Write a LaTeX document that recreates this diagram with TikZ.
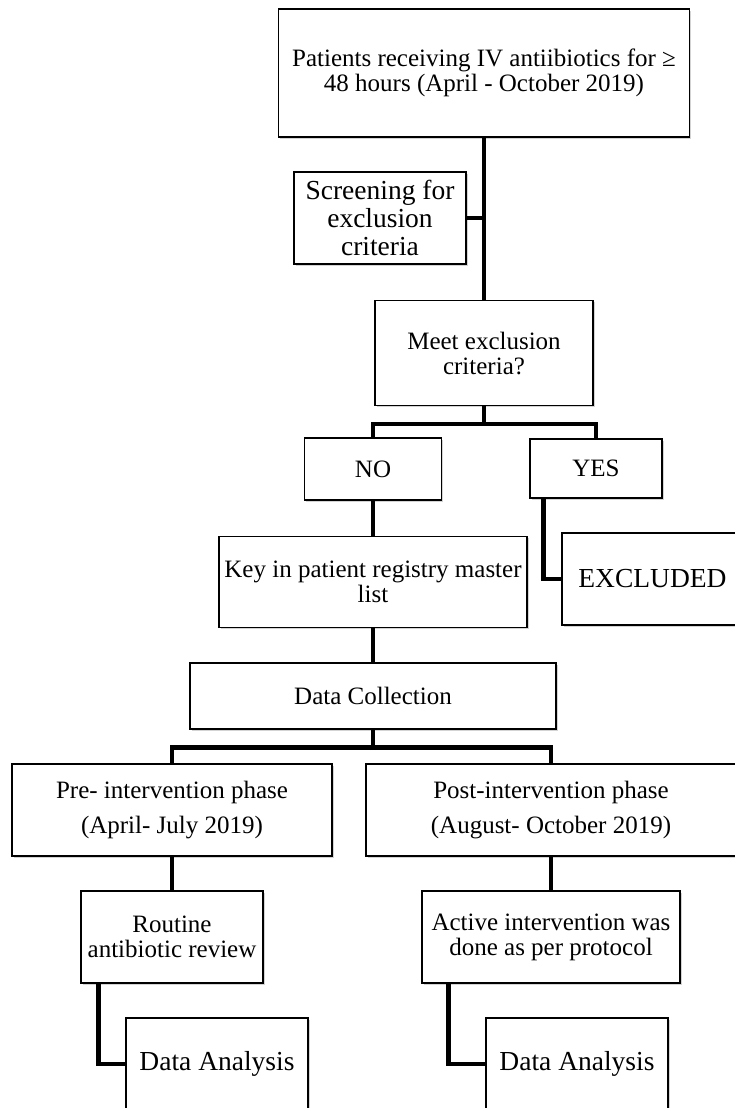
\documentclass[tikz,border=0pt]{standalone}
\usepackage{fontspec}
\setmainfont{Liberation Serif}
\usetikzlibrary{calc,shadows}
\tikzset{
  flowbox/.style={
    draw=black, line width=1.3pt, fill=white, align=center, inner sep=0pt,
    font=\fontsize{25}{25}\selectfont,
    drop shadow={shadow xshift=1.5pt, shadow yshift=-1.8pt, opacity=0.35}
  },
  bigflowbox/.style={flowbox, font=\fontsize{27.5}{28}\selectfont},
  phasebox/.style={flowbox, font=\fontsize{25}{35}\selectfont},
  treelink/.style={line width=4.6pt}
}

\begin{document}
\begin{tikzpicture}[x=1pt, y=-1pt]
\useasboundingbox (0,0) rectangle (734,1108);

\node[flowbox, minimum width=411pt, minimum height=128pt] (patients) at (484,73) {Patients receiving IV antiibiotics for ≥\\48 hours (April - October 2019)};
\node[bigflowbox, minimum width=172pt, minimum height=92pt] (screen) at (380,218) {Screening for\\exclusion\\criteria};
\node[flowbox, minimum width=218pt, minimum height=105pt] (meet) at (484,353) {Meet exclusion\\criteria?};

\node[flowbox, minimum width=137pt, minimum height=62pt] (no) at (373,469) {NO};
\node[flowbox, minimum width=132pt, minimum height=59pt] (yes) at (596,468.5) {YES};
\node[bigflowbox, minimum width=181pt, minimum height=92pt] (excluded) at (652.5,579) {EXCLUDED};
\node[flowbox, minimum width=308pt, minimum height=91pt] (registry) at (373,582) {Key in patient registry master\\list};
\node[flowbox, minimum width=366pt, minimum height=66pt] (collection) at (373,696) {Data Collection};

\node[phasebox, minimum width=320pt, minimum height=92pt] (pre) at (172,810) {Pre- intervention phase\\(April- July 2019)};
\node[phasebox, minimum width=370pt, minimum height=92pt] (post) at (551,810) {Post-intervention phase\\(August- October 2019)};
\node[flowbox, minimum width=182pt, minimum height=92pt] (routine) at (172,937) {Routine\\antibiotic review};
\node[flowbox, minimum width=258pt, minimum height=92pt] (active) at (551,937) {Active intervention was\\done as per protocol};
\node[bigflowbox, minimum width=182pt, minimum height=92pt] (analysis_pre) at (217,1064) {Data Analysis};
\node[bigflowbox, minimum width=182pt, minimum height=92pt] (analysis_post) at (577,1064) {Data Analysis};

\coordinate (meet_split) at ($(meet.south) + (0,18)$);
\coordinate (collection_split) at ($(collection.south) + (0,18)$);

\draw[treelink] (patients.south) -- (meet.north);
\draw[treelink] (screen.east) -- (screen.east -| patients.south);
\draw[treelink] (meet.south) -- (meet_split);
\draw[treelink] (no.north) |- (meet_split) -| (yes.north);
\draw[treelink] ([xshift=14pt]yes.south west) |- (excluded.west);
\draw[treelink] (no.south) -- (registry.north);
\draw[treelink] (registry.south) -- (collection.north);
\draw[treelink] (collection.south) -- (collection_split);
\draw[treelink] (pre.north) |- (collection_split) -| (post.north);
\draw[treelink] (pre.south) -- (routine.north);
\draw[treelink] (post.south) -- (active.north);
\draw[treelink] ([xshift=18pt]routine.south west) |- (analysis_pre.west);
\draw[treelink] ([xshift=27pt]active.south west) |- (analysis_post.west);

\end{tikzpicture}
\end{document}
